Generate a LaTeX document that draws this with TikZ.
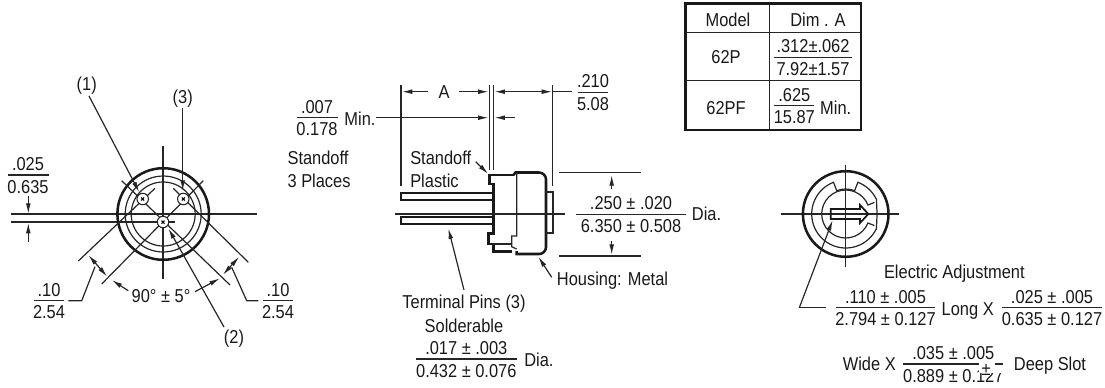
\documentclass[tikz,border=0pt]{standalone}
\usepackage{fontspec}
\setmainfont[FakeStretch=0.88]{Liberation Sans}
\usetikzlibrary{arrows.meta}
\tikzset{
  txt/.style={inner sep=0pt,font=\fontsize{14pt}{16pt}\selectfont,text=black!90},
  thinl/.style={line width=0.9pt,draw=black!85},
  medl/.style={line width=1.2pt,draw=black!85},
  thickl/.style={line width=1.9pt,draw=black!90,line join=miter},
  arr/.style={thinl,-{Latex[length=8pt,width=3.6pt]}},
  darr/.style={thinl,{Latex[length=8pt,width=3.6pt]}-{Latex[length=8pt,width=3.6pt]}}
}
\newcommand\TX[4]{\node[txt,anchor=base,name=#1] at (#2,#3+6.5) {#4};}
\newcommand\TL[4]{\node[txt,anchor=base west,name=#1] at (#2,#3+6.5) {#4};}
\newcommand\FR[6]{\draw[thinl] (#2-#4,#3)--(#2+#4,#3);
  \node[txt,anchor=base,name=#1t] at (#2,#3-4.5) {#5};
  \node[txt,anchor=base,name=#1b] at (#2,#3+18) {#6};}
\begin{document}
\begin{tikzpicture}[x=0.75pt,y=-0.75pt]
\useasboundingbox (0,0) rectangle (1105,387);
% ---- left view
\draw[thinl,line width=1.1pt] (11,214)--(257,214);
\draw[thinl,line width=1.1pt] (11,222)--(175,222);
\draw[thinl] (163,146)--(163,279);
\draw[thickl] (163.2,214) circle[radius=45.8];
\draw[thinl] (163.2,214) circle[radius=38];
\draw[thinl] (163.2,214) circle[radius=32];
\draw[thinl] (121.7,180.7)--(230,285);
\draw[thinl] (155,188.3)--(78.3,261);
\draw[thinl] (173.3,188.3)--(248.3,262.3);
\draw[thinl] (203.3,180.7)--(101.7,284);
\foreach \n/\x/\y in {a/142.7/199,b/183.3/199,c/163/222}{
  \node[circle,draw=black!85,line width=0.8pt,fill=white,inner sep=0pt,minimum size=8.6pt,name=pin\n] at (\x,\y) {};
  \draw[line width=0.8pt] (\x-1.5,\y-1.5)--(\x+1.5,\y+1.5) (\x-1.5,\y+1.5)--(\x+1.5,\y-1.5);
}
\TX{n1}{86.7}{84}{(1)}
\TX{n3}{182.7}{97}{(3)}
\TX{n2}{234}{337}{(2)}
\draw[arr] (89,96)--(139.3,192.3);
\draw[arr] (182.7,108)--(182.7,191);
\draw[arr] (224,327)--(168.3,228.3);
\FR{fa}{28}{175}{20.5}{.025}{0.635}
\draw[arr] (28.3,196)--(28.3,214);
\draw[arr] (28.3,241.7)--(28.3,222.7);
\FR{fb}{49}{300.7}{15}{.10}{2.54}
\draw[thinl] (68.3,300.7)--(81.7,300.7)--(95,266.7);
\draw[darr] (88.3,255)--(107.3,276.7);
\draw[arr] (128.3,290.7)--(111.7,280);
\TX{nang}{161}{295.7}{90° ± 5°}
\draw[arr] (195,291.7)--(220,278.3);
\draw[darr] (239.3,256.7)--(222.7,275);
\draw[thinl] (231.7,267.3)--(246.7,300.7)--(258.3,300.7);
\FR{fc}{278}{300.7}{14.7}{.10}{2.54}
% ---- middle view
\FR{fd}{317}{117.7}{20.5}{.007}{0.178}
\TX{nmin}{360}{119}{Min.}
\TL{nso}{287.3}{158}{Standoff}
\TL{npl}{287.3}{180.7}{3 Places}
\TL{nsp}{410}{158}{Standoff}
\TL{nsq}{410}{180.7}{Plastic}
\draw[arr] (475.7,161.7)--(488.3,174);
\draw[thinl] (401,85)--(401,186);
\draw[thinl] (489.3,85)--(489.3,170);
\draw[thinl] (493.7,85)--(493.7,170);
\draw[thinl] (552.7,85)--(552.7,186);
\TX{nA}{444}{92.3}{A}
\draw[arr] (428.3,91.7)--(401.7,91.7);
\draw[arr] (459.3,91.7)--(488.7,91.7);
\draw[darr] (494.3,91.7)--(552.3,91.7);
\draw[thinl] (552.3,91.7)--(571.7,91.7);
\FR{fe}{593}{92.3}{15.3}{.210}{5.08}
\draw[arr] (376,117.7)--(488.7,117.7);
\draw[arr] (515,117.7)--(494.3,117.7);
% pins
\draw[thickl,line width=1.6pt] (494,192.7)--(400.7,192.7)--(400.7,200)--(494,200);
\draw[thickl,line width=1.6pt] (494,216.7)--(400.7,216.7)--(400.7,224)--(494,224);
% body
\draw[thickl] (514,175)--(489.3,175)--(489.3,184)--(493.3,184)--(493.3,233.3)--(488.3,233.3)--(488.3,244)--(493.3,244)--(493.3,251.7)--(511.7,251.7);
\draw[thickl] (513.5,175)--(515.5,172.5)--(539,172.5) to[out=0,in=90] (546,179.5)--(546,247) to[out=-90,in=0] (539,254)--(516.7,254)--(516.7,251);
\draw[thinl] (516.7,172.5)--(516.7,236)--(511.7,236)--(511.7,246.7)--(516.7,249);
\draw[thinl] (493.3,244)--(511.7,244);
\draw[medl,line width=1.4pt] (546,191.7)--(553.3,191.7)--(553.3,232.7)--(546,232.7);
\draw[thinl,line width=1.1pt] (395,214)--(565,214);
\draw[thinl] (559.3,172.7)--(640.7,172.7);
\draw[thinl] (559.3,256)--(640.7,256);
\draw[arr] (611.7,189.3)--(611.7,175);
\draw[arr] (611.7,241)--(611.7,255);
\FR{ff}{631}{214.3}{55}{.250 ± .020}{6.350 ± 0.508}
\TL{ndia}{691.7}{214}{Dia.}
\draw[arr] (551.7,277.3)--(538.3,256.7);
\TL{nhou}{556.7}{279.3}{Housing: Metal}
\draw[arr] (464,290)--(448.3,228.3);
\TX{nterm}{464}{302.3}{Terminal Pins (3)}
\TX{nsold}{464}{325.7}{Solderable}
\FR{fg}{466.3}{359}{50.4}{.017 ± .003}{0.432 ± 0.076}
\TL{ndib}{524}{360}{Dia.}
% ---- table
\draw[thinl] (769.3,3.3)--(769.3,130);
\draw[thinl] (685.7,32.3)--(861,32.3);
\draw[thinl] (685.7,80.7)--(861,80.7);
\draw[thickl] (685.7,3.3) rectangle (861,130);
\TX{nmod}{728}{20}{Model}
\TX{ndim}{818}{20}{Dim . A}
\TX{n62p}{726}{57}{62P}
\TX{n62f}{726}{108}{62PF}
\FR{fh}{813}{57.3}{38.7}{.312±.062}{7.92±1.57}
\FR{fi}{794.3}{105.7}{20}{.625}{15.87}
\TX{nmn}{835.7}{108.3}{Min.}
% ---- right view
\draw[thinl] (780.7,214)--(899.3,214);
\draw[thinl] (845.7,165)--(845.7,266.7);
\begin{scope}[shift={(845.7,214)},yscale=-1]
  \draw[thickl] (0,0) circle[radius=42.8];
  \draw[thinl] (69:34) arc[start angle=69,end angle=26,radius=34] to[out=-90,in=90] (0:31.5) to[out=-90,in=90] (-26:34)
     arc[start angle=-26,end angle=-249,radius=34] -- (111:25)
     arc[start angle=111,end angle=69,radius=25] -- cycle;
  \draw[thinl] (22:31)--(22:24) arc[start angle=22,end angle=338,radius=24] -- (-22:31);
\end{scope}
\draw[thickl,line width=1.3pt] (830.7,209)--(860,209)--(860,205)--(868.3,214)--(860,223)--(860,219)--(830.7,219)--cycle;
\draw[arr] (799.3,307.7)--(832.7,220);
\draw[thinl] (799.3,307.7)--(826,307.7);
\TX{nel}{954.3}{272.3}{Electric Adjustment}
\FR{fj}{885.5}{307.7}{49.7}{.110 ± .005}{2.794 ± 0.127}
\TX{nlong}{967.7}{309}{Long X}
\FR{fk}{1052}{307.7}{49.7}{.025 ± .005}{0.635 ± 0.127}
\TX{nwide}{869.3}{364.3}{Wide X}
\FR{fl}{953.3}{364}{50}{.035 ± .005}{0.889 ± 0.127}
\TX{ndeep}{1050}{364.3}{Deep Slot}
% overprint in the reference
\fill[white] (978.5,361.7) rectangle (1004.5,373);
\draw[thinl] (995,364)--(1003.3,364);
\node[txt,anchor=base,name=nglitch] at (986,375) {±};
\end{tikzpicture}
\end{document}
